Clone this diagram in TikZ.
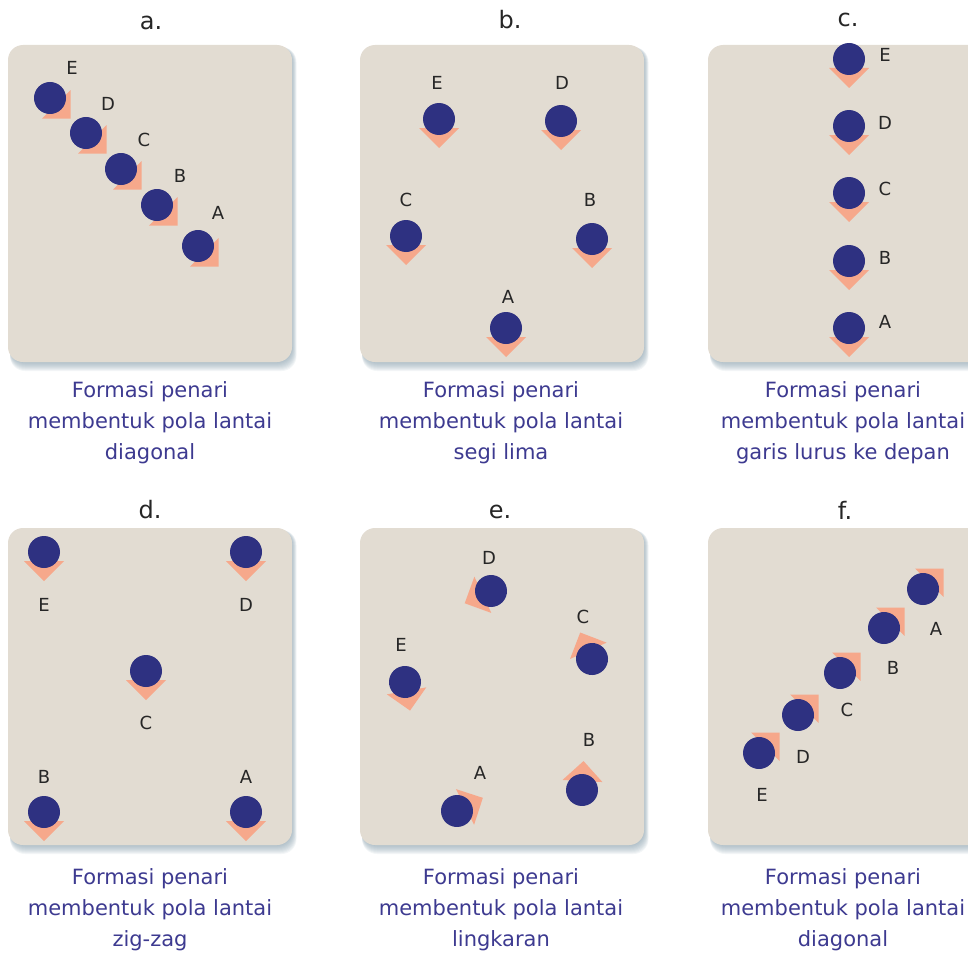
\documentclass[tikz,border=0pt]{standalone}
\usepackage{fontspec}
\setmainfont{DejaVu Sans}
\usetikzlibrary{positioning}

\definecolor{lantai}{HTML}{E2DCD2}
\definecolor{bayang}{HTML}{7F98A6}
\definecolor{kepala}{HTML}{2E3181}
\definecolor{arah}{HTML}{F6A88B}
\definecolor{teks}{HTML}{3D3A90}

\begin{document}
\begin{tikzpicture}[
    x=1pt, y=-1pt,
    papan/.style = {fill=lantai, rounded corners=15pt},
    judul/.style = {font=\fontsize{24}{28}\selectfont, text=black!85},
    huruf/.style = {font=\fontsize{18}{20}\selectfont, text=black!85, inner sep=0pt},
    keterangan/.style = {align=center, text=teks, font=\fontsize{21}{31}\selectfont},
    penari/.pic = {
        \fill[arah] (9,-20) -- (29,0) -- (9,20) -- cycle;
        \fill[kepala] (0,0) circle (16);
    }
]
\useasboundingbox (0,0) rectangle (968,955);
\clip (0,0) rectangle (968,955);

% panels with a soft shadow
\foreach \px/\py in {8/45, 360/45, 708/45, 8/528, 360/528, 708/528} {
    \foreach \s in {1,...,9}
        \fill[bayang, opacity=0.09, rounded corners=15pt]
            (\px+2,\py+2) rectangle (\px+284+\s/2,\py+317+\s);
    \fill[papan] (\px,\py) rectangle (\px+284,\py+317);
}

% titles
\node[judul] (ta) at (151,23) {a.};
\node[judul] (tb) at (510,20) {b.};
\node[judul] (tc) at (848,20) {c.};
\node[judul] (td) at (150,510) {d.};
\node[judul] (te) at (500,512) {e.};
\node[judul] (tf) at (845,510) {f.};

% a. diagonal
\foreach \n/\x/\y/\lx/\ly in {E/50/98/72/68, D/86/133/108/104, C/121/169/144/140,
                                B/157/205/180/176, A/198/246/218/213} {
    \pic[rotate=-45] (a\n) at (\x,\y) {penari};
    \node[huruf] (la\n) at (\lx,\ly) {\n};
}

% b. segi lima
\foreach \n/\x/\y/\lx/\ly in {E/439/119/437/83, D/561/121/562/83, C/406/236/406/200,
                                B/592/239/590/200, A/506/328/508/297} {
    \pic[rotate=-90] (b\n) at (\x,\y) {penari};
    \node[huruf] (lb\n) at (\lx,\ly) {\n};
}

% c. garis lurus
\foreach \n/\y/\ly in {E/59/55, D/126/123, C/193/189, B/261/258, A/328/322} {
    \pic[rotate=-90] (c\n) at (849,\y) {penari};
    \node[huruf] (lc\n) at (885,\ly) {\n};
}

% d. zig-zag
\foreach \n/\x/\y/\lx/\ly in {E/44/552/44/605, D/246/552/246/605, C/146/671/146/723,
                                B/44/812/44/777, A/246/812/246/777} {
    \pic[rotate=-90] (d\n) at (\x,\y) {penari};
    \node[huruf] (ld\n) at (\lx,\ly) {\n};
}

% e. lingkaran
\foreach \n/\x/\y/\r/\lx/\ly in {D/491/591/205/489/558, C/592/659/114/583/617,
                                   E/405/682/280/401/645, B/582/790/87/589/740,
                                   A/457/811/27/480/773} {
    \pic[rotate=\r] (e\n) at (\x,\y) {penari};
    \node[huruf] (le\n) at (\lx,\ly) {\n};
}

% f. diagonal
\foreach \n/\x/\y/\lx/\ly in {A/923/589/936/629, B/884/628/893/668, C/840/673/847/710,
                                D/798/715/803/757, E/759/753/762/795} {
    \pic[rotate=45] (f\n) at (\x,\y) {penari};
    \node[huruf] (lf\n) at (\lx,\ly) {\n};
}

% captions
\node[keterangan] (ka) at (150,423) {Formasi penari\\membentuk pola lantai\\diagonal};
\node[keterangan] (kb) at (501,423) {Formasi penari\\membentuk pola lantai\\segi lima};
\node[keterangan] (kc) at (843,423) {Formasi penari\\membentuk pola lantai\\garis lurus ke depan};
\node[keterangan] (kd) at (150,910) {Formasi penari\\membentuk pola lantai\\zig-zag};
\node[keterangan] (ke) at (501,910) {Formasi penari\\membentuk pola lantai\\lingkaran};
\node[keterangan] (kf) at (843,910) {Formasi penari\\membentuk pola lantai\\diagonal};

\end{tikzpicture}
\end{document}
